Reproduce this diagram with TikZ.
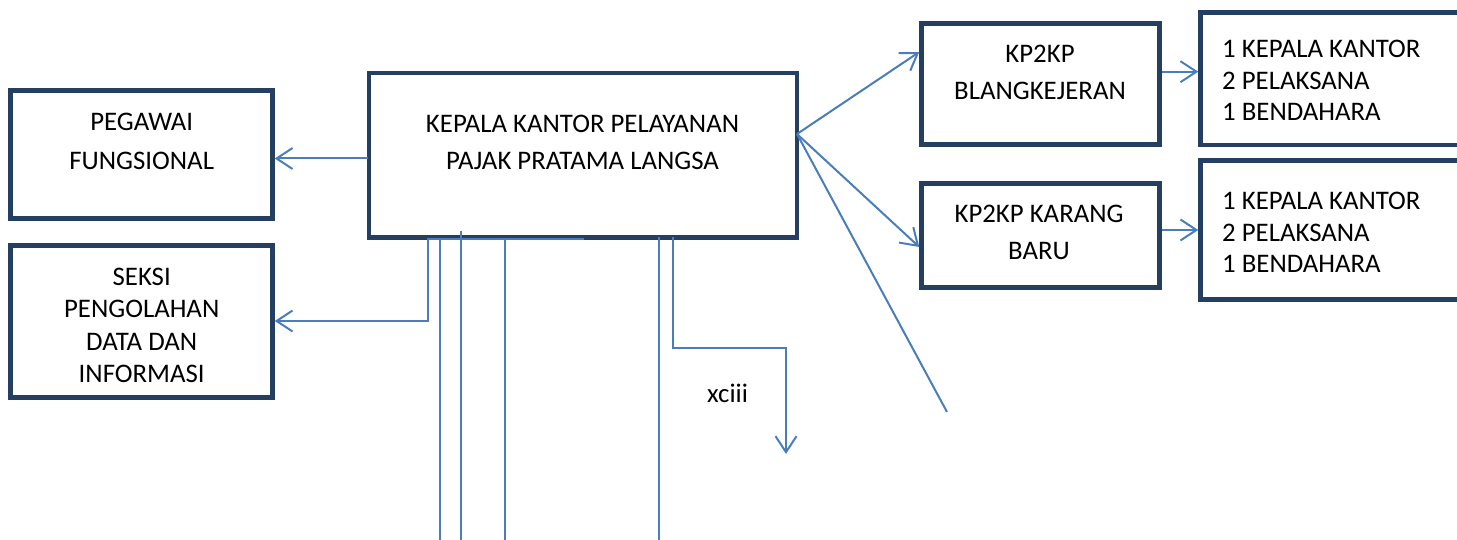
\documentclass[tikz,border=0pt]{standalone}
\usepackage{fontspec}
\setmainfont{Carlito}
\usetikzlibrary{arrows.meta}
\definecolor{boxc}{HTML}{243F60}
\definecolor{linec}{HTML}{4A7EBB}
\begin{document}
\begin{tikzpicture}[x=1pt,y=-1pt,
  box/.style={draw=boxc, line width=4.5pt, rectangle, inner sep=0pt, fill=white},
  txt/.style={inner sep=0pt, anchor=north, align=center},
  conn/.style={draw=linec, line width=2pt},
  arr/.style={conn, -{Straight Barb[length=16pt,width=21pt,line width=2pt]}}]
\useasboundingbox (0,0) rectangle (1457,540);
% boxes
\node[box, minimum width=428pt, minimum height=164.5pt] (main) at (583,155.25) {};
\node[box, minimum width=262pt, minimum height=128pt] (peg) at (141.5,154.5) {};
\node[box, minimum width=262pt, minimum height=152pt] (seksi) at (141.5,321.5) {};
\node[box, minimum width=238pt, minimum height=121pt] (blang) at (1040.5,84) {};
\node[box, minimum width=238pt, minimum height=104pt] (karang) at (1040.5,235.5) {};
\node[box, minimum width=270pt, minimum height=132.5pt] (r1) at (1335.5,78.75) {};
\node[box, minimum width=270pt, minimum height=139pt] (r2) at (1335.5,230) {};
% texts
\node[txt, font=\fontsize{26.8}{37}\selectfont] (tmain) at (582.5,115) {KEPALA KANTOR PELAYANAN\\PAJAK PRATAMA LANGSA};
\node[txt, font=\fontsize{26.8}{38.5}\selectfont] (tpeg) at (141.7,113) {PEGAWAI\\FUNGSIONAL};
\node[txt, font=\fontsize{26.8}{32.3}\selectfont] (tseksi) at (141.7,268) {SEKSI\\PENGOLAHAN\\DATA DAN\\INFORMASI};
\node[txt, font=\fontsize{26.8}{37}\selectfont] (tblang) at (1040,45) {KP2KP\\BLANGKEJERAN};
\node[txt, font=\fontsize{26.8}{37}\selectfont] (tkarang) at (1039,205) {KP2KP KARANG\\BARU};
\node[txt, anchor=north west, align=left, font=\fontsize{26.8}{31.5}\selectfont] (tr1) at (1222,40) {1 KEPALA KANTOR\\2 PELAKSANA\\1 BENDAHARA};
\node[txt, anchor=north west, align=left, font=\fontsize{26.8}{31.5}\selectfont] (tr2) at (1222,192) {1 KEPALA KANTOR\\2 PELAKSANA\\1 BENDAHARA};
\node[inner sep=0pt, anchor=base west, font=\fontsize{26.8}{32}\selectfont] (xc) at (707,402) {xciii};
% connector points
\coordinate (m1) at (368,158.5);
\coordinate (s1) at (428,239);
\coordinate (s2) at (428,321);
\coordinate (h1) at (427,239);
\coordinate (h2) at (584,239);
\coordinate (v1a) at (440,239);   \coordinate (v1b) at (440,540);
\coordinate (v2a) at (461,231.5); \coordinate (v2b) at (461,540);
\coordinate (v3a) at (505,239);   \coordinate (v3b) at (505,540);
\coordinate (v4a) at (659,237);   \coordinate (v4b) at (659,540);
\coordinate (v5a) at (673,237);   \coordinate (v5b) at (673,348);
\coordinate (v5c) at (786,348);   \coordinate (v5d) at (786,454);
\coordinate (f) at (797,134);
\coordinate (fend) at (947,412);
% connectors
\draw[arr] (m1) -- (peg.east |- m1);
\draw[arr] (s1) -- (s2) -- (seksi.east |- s2);
\draw[conn] (h1) -- (h2);
\draw[conn] (v1a) -- (v1b);
\draw[conn] (v2a) -- (v2b);
\draw[conn] (v3a) -- (v3b);
\draw[conn] (v4a) -- (v4b);
\draw[arr] (v5a) -- (v5b) -- (v5c) -- (v5d);
\draw[arr] (f) -- (blang.west |- 0,52);
\draw[arr] (f) -- (karang.west |- 0,247);
\draw[conn] (f) -- (fend);
\draw[arr] (blang.east |- 0,71.7) -- (r1.west |- 0,71.7);
\draw[arr] (karang.east |- 0,230) -- (r2.west |- 0,230);
\end{tikzpicture}
\end{document}
